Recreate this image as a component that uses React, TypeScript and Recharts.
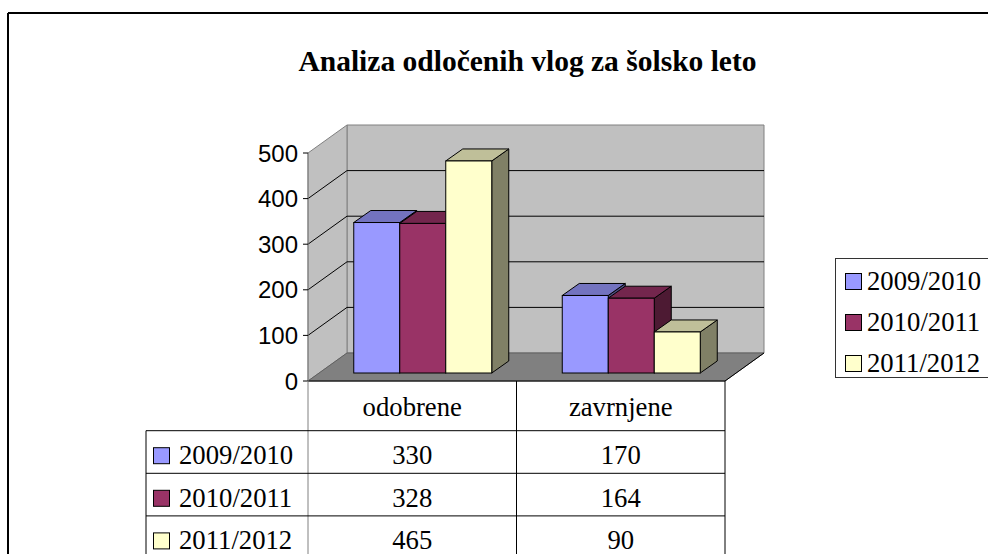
import React from 'react';
import { BarChart, Bar, XAxis, YAxis, CartesianGrid } from 'recharts';

// ---------- data ----------
const categories = ['odobrene', 'zavrnjene'];
const seriesNames = ['2009/2010', '2010/2011', '2011/2012'];
const values2009_2010 = [330, 170];
const values2010_2011 = [328, 164];
const values2011_2012 = [465, 90];
const yTicks = [0, 100, 200, 300, 400, 500];
const chartTitle = 'Analiza odločenih vlog za šolsko leto';

const seriesValues = [values2009_2010, values2010_2011, values2011_2012];
const seriesKeys = ['s1', 's2', 's3'];
const data = categories.map((name, i) => {
  const row: any = { name };
  seriesKeys.forEach((k, j) => {
    row[k] = seriesValues[j][i];
  });
  return row;
});

// ---------- styles / layout ----------
const COLORS = [
  { front: '#9999FF', top: '#7373BF', side: '#4D4D80' },
  { front: '#993366', top: '#73264D', side: '#4D1A33' },
  { front: '#FFFFCC', top: '#BFBF99', side: '#808066' },
];

const W = 988;
const H = 554;
const PL = 308;
const PR = 725;
const PT = 153;
const PB = 381;
const DX = 39;
const DY = -28;
const BOX = 11;
const BOY = -8;
const BDX = 17;
const BDY = -12;
const Y_AXIS_W = 60;
const X_AXIS_H = 50;
const HEADER_H = 49.7;
const ROW_H = 42.6;
const TBL_L = 146;

const SERIF = '"Liberation Serif", "Times New Roman", serif';
const SANS = '"Liberation Sans", Arial, sans-serif';

function Prism(props: any) {
  const { x, y, width, height, colors } = props;
  if (x == null || y == null || !width) return null;
  const fx = x + BOX;
  const fy = y + BOY;
  const w = width;
  const h = height;
  const topPts = `${fx},${fy} ${fx + w},${fy} ${fx + w + BDX},${fy + BDY} ${fx + BDX},${fy + BDY}`;
  const sidePts = `${fx + w},${fy} ${fx + w + BDX},${fy + BDY} ${fx + w + BDX},${fy + BDY + h} ${fx + w},${fy + h}`;
  return (
    <g>
      <polygon points={sidePts} fill={colors.side} stroke="#000" strokeWidth={1} />
      <polygon points={topPts} fill={colors.top} stroke="#000" strokeWidth={1} />
      <rect x={fx} y={fy} width={w} height={h} fill={colors.front} stroke="#000" strokeWidth={1} />
    </g>
  );
}

function GridLine(props: any) {
  const { x1, y1, x2, y2 } = props;
  if (Math.abs(y1 - PB) < 1 || Math.abs(y1 - PT) < 1) return <g />;
  return (
    <g>
      <line x1={x1} y1={y1} x2={x1 + DX} y2={y1 + DY} stroke="#000" strokeWidth={1} />
      <line x1={x1 + DX} y1={y1 + DY} x2={x2 + DX} y2={y2 + DY} stroke="#000" strokeWidth={1} />
    </g>
  );
}

function CatTick(props: any) {
  const { x, y, payload } = props;
  return (
    <text x={x} y={y + 35} textAnchor="middle" fontFamily={SERIF} fontSize={26.7} fill="#000">
      {payload.value}
    </text>
  );
}

function LegendBox() {
  return (
    <div
      style={{
        position: 'absolute',
        left: 835,
        top: 258,
        width: 170,
        height: 120,
        border: '1px solid #333',
        boxSizing: 'border-box',
        background: '#fff',
      }}
    >
      {seriesNames.map((name, i) => (
        <div
          key={name}
          style={{
            position: 'absolute',
            left: 9,
            top: 7 + i * 41,
            height: 30,
            display: 'flex',
            alignItems: 'center',
            whiteSpace: 'nowrap',
          }}
        >
          <span
            style={{
              display: 'inline-block',
              width: 15,
              height: 15,
              background: COLORS[i].front,
              border: '1px solid #000',
              marginRight: 5,
            }}
          />
          <span style={{ fontFamily: SERIF, fontSize: 26.7, color: '#000', lineHeight: '30px' }}>{name}</span>
        </div>
      ))}
    </div>
  );
}

export default function App() {
  const catW = (PR - PL) / categories.length;
  const rowTops = seriesNames.map((_, i) => PB + HEADER_H + i * ROW_H);
  return (
    <div
      style={{
        position: 'absolute',
        left: 0,
        top: 0,
        width: W,
        height: H,
        overflow: 'hidden',
        background: '#fff',
      }}
    >
      {/* background: frame, title, walls and floor */}
      <svg width={W} height={H} style={{ position: 'absolute', left: 0, top: 0 }}>
        <line x1={8} y1={13} x2={W} y2={13} stroke="#000" strokeWidth={2} />
        <line x1={8} y1={13} x2={8} y2={H} stroke="#000" strokeWidth={2} />
        <text x={527.5} y={71} textAnchor="middle" fontFamily={SERIF} fontWeight="bold" fontSize={29.5} fill="#000">
          {chartTitle}
        </text>
        <polygon
          points={`${PL + DX},${PT + DY} ${PR + DX},${PT + DY} ${PR + DX},${PB + DY} ${PL + DX},${PB + DY}`}
          fill="#C0C0C0"
          stroke="#808080"
          strokeWidth={1}
        />
        <polygon
          points={`${PL},${PT} ${PL + DX},${PT + DY} ${PL + DX},${PB + DY} ${PL},${PB}`}
          fill="#C0C0C0"
          stroke="#808080"
          strokeWidth={1}
        />
        <polygon
          points={`${PL},${PB} ${PL + DX},${PB + DY} ${PR + DX},${PB + DY} ${PR},${PB}`}
          fill="#808080"
          stroke="#606060"
          strokeWidth={1}
        />
        <line x1={PR} y1={PB} x2={PR + DX} y2={PB + DY} stroke="#000" strokeWidth={1} />
      </svg>

      <div style={{ position: 'absolute', left: 0, top: 0 }}>
        <BarChart
          width={W}
          height={H}
          data={data}
          margin={{ top: PT, right: W - PR, bottom: H - PB - X_AXIS_H, left: PL - Y_AXIS_W }}
          barCategoryGap="16.67%"
          barGap={0}
        >
          <CartesianGrid vertical={false} horizontal={(p: any) => <GridLine {...p} />} />
          <XAxis
            dataKey="name"
            height={X_AXIS_H}
            axisLine={{ stroke: '#000' }}
            tickLine={false}
            tickSize={0}
            tickMargin={0}
            interval={0}
            tick={(p: any) => <CatTick {...p} />}
          />
          <YAxis
            domain={[0, 500]}
            ticks={yTicks}
            width={Y_AXIS_W}
            interval={0}
            axisLine={{ stroke: '#808080' }}
            tickLine={{ stroke: '#000' }}
            tickSize={5}
            tickMargin={5}
            tick={{ fill: '#000', fontSize: 24, fontFamily: SANS }}
          />
          {seriesKeys.map((k, i) => (
            <Bar
              key={k}
              dataKey={k}
              name={seriesNames[i]}
              fill={COLORS[i].front}
              isAnimationActive={false}
              shape={(p: any) => <Prism {...p} colors={COLORS[i]} />}
            />
          ))}
        </BarChart>
      </div>

      <LegendBox />

      {/* data table */}
      <svg width={W} height={H} style={{ position: 'absolute', left: 0, top: 0, pointerEvents: 'none' }}>
        <line x1={PL} y1={PB} x2={PL} y2={H} stroke="#808080" strokeWidth={1} />
        {categories.map((_, i) => (
          <line
            key={'v' + i}
            x1={PL + (i + 1) * catW}
            y1={PB}
            x2={PL + (i + 1) * catW}
            y2={H}
            stroke="#000"
            strokeWidth={1}
          />
        ))}
        <line x1={TBL_L} y1={rowTops[0]} x2={TBL_L} y2={H} stroke="#000" strokeWidth={1} />
        {rowTops.map((t, i) => (
          <line key={'h' + i} x1={TBL_L} y1={t} x2={PR} y2={t} stroke="#000" strokeWidth={1} />
        ))}
        {seriesNames.map((s, i) => {
          const base = rowTops[i] + 33.5;
          return (
            <g key={s}>
              <rect x={153.5} y={base - 16.5} width={16} height={16} fill={COLORS[i].front} stroke="#000" strokeWidth={1} />
              <text x={179} y={base} fontFamily={SERIF} fontSize={26.7} fill="#000">
                {s}
              </text>
              {categories.map((c, j) => (
                <text
                  key={c}
                  x={PL + (j + 0.5) * catW}
                  y={base}
                  textAnchor="middle"
                  fontFamily={SERIF}
                  fontSize={26.7}
                  fill="#000"
                >
                  {seriesValues[i][j]}
                </text>
              ))}
            </g>
          );
        })}
      </svg>
    </div>
  );
}
